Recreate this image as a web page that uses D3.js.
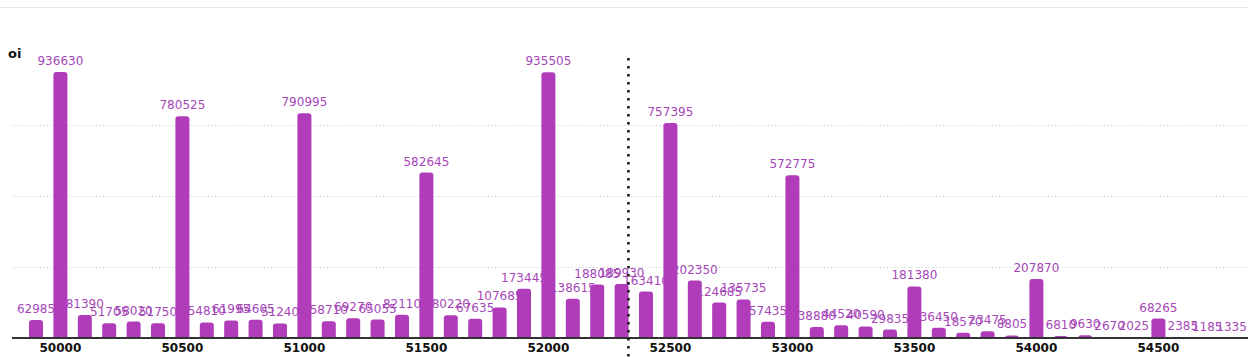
<!DOCTYPE html>
<html>
<head>
<meta charset="utf-8">
<script src="https://cdn.jsdelivr.net/npm/d3@7"></script>
<style>
  html, body { margin: 0; padding: 0; background: #ffffff; }
  svg { display: block; }
</style>
</head>
<body>
<div id="chart"></div>
<script>
// ---- data ----
const strikes = [49900, 50000, 50100, 50200, 50300, 50400, 50500, 50600, 50700, 50800, 50900,
  51000, 51100, 51200, 51300, 51400, 51500, 51600, 51700, 51800, 51900,
  52000, 52100, 52200, 52300, 52400, 52500, 52600, 52700, 52800, 52900,
  53000, 53100, 53200, 53300, 53400, 53500, 53600, 53700, 53800, 53900,
  54000, 54100, 54200, 54300, 54400, 54500, 54600, 54700, 54800];
const oiValues = [62985, 936630, 81390, 51705, 58020, 51750, 780525, 54810, 61995, 64605, 51240,
  790995, 58710, 69270, 65055, 82110, 582645, 80220, 67635, 107685, 173445,
  935505, 138615, 188085, 189930, 163410, 757395, 202350, 124685, 135735, 57435,
  572775, 38880, 44520, 40590, 29835, 181380, 36450, 18570, 23475, 8805,
  207870, 6810, 9630, 2670, 2025, 68265, 2385, 1185, 1335];
const xTickLabels = [50000, 50500, 51000, 51500, 52000, 52500, 53000, 53500, 54000, 54500];
const gridValues = [250000, 500000, 750000];
const spotPrice = 52328;
const yLabel = "oi";

// ---- layout ----
const W = 1248, H = 357;
const baseY = 338;
const svg = d3.select("#chart").append("svg").attr("width", W).attr("height", H);

svg.append("defs").append("clipPath").attr("id", "plotclip")
  .append("rect").attr("x", 0).attr("y", 0).attr("width", W).attr("height", baseY - 1);

const x = d3.scaleBand().domain(strikes).range([23.8, 23.8 + strikes.length * 24.4]).paddingInner(0.426).paddingOuter(0.213);
const y = d3.scaleLinear().domain([0, 1000000]).range([baseY, 54]);
const xLin = d3.scaleLinear()
  .domain([strikes[0], strikes[strikes.length - 1]])
  .range([x(strikes[0]) + x.bandwidth() / 2, x(strikes[strikes.length - 1]) + x.bandwidth() / 2]);

// top border line
svg.append("line").attr("x1", 0).attr("x2", W).attr("y1", 7.5).attr("y2", 7.5)
  .attr("stroke", "#e6e6e6").attr("stroke-width", 1.2);

// grid
svg.append("g").selectAll("line").data(gridValues).join("line")
  .attr("x1", 12).attr("x2", W)
  .attr("y1", d => Math.round(y(d)) + 0.5).attr("y2", d => Math.round(y(d)) + 0.5)
  .attr("stroke", "#c8c8c8").attr("stroke-width", 1).attr("stroke-dasharray", "1,2.5");

// y label
svg.append("text").attr("x", 8).attr("y", 58).text(yLabel)
  .attr("font-family", "DejaVu Sans, sans-serif").attr("font-weight", "bold")
  .attr("font-size", 13).attr("fill", "#111");

// bars
const r = 3;
svg.append("g").attr("clip-path", "url(#plotclip)").selectAll("rect").data(strikes).join("rect")
  .attr("x", d => x(d))
  .attr("width", x.bandwidth())
  .attr("y", (d, i) => y(oiValues[i]))
  .attr("height", (d, i) => baseY - y(oiValues[i]) + r)
  .attr("rx", r).attr("ry", r)
  .attr("fill", "#b03cba");

// value labels
svg.append("g").selectAll("text").data(strikes).join("text")
  .attr("x", d => x(d) + x.bandwidth() / 2)
  .attr("y", (d, i) => y(oiValues[i]) - 7)
  .attr("text-anchor", "middle")
  .attr("font-family", "DejaVu Sans, sans-serif")
  .attr("font-size", 12)
  .attr("fill", "#a547b8")
  .text((d, i) => oiValues[i]);

// axis line
svg.append("line").attr("x1", 12).attr("x2", W).attr("y1", baseY).attr("y2", baseY)
  .attr("stroke", "#333").attr("stroke-width", 2);

// x axis labels
const xAxis = d3.axisBottom(x).tickValues(xTickLabels).tickSize(0).tickPadding(0).tickFormat(d => d);
const gx = svg.append("g").attr("transform", `translate(0,${baseY})`).call(xAxis);
gx.select(".domain").remove();
gx.selectAll("text")
  .attr("y", 14).attr("dy", 0)
  .attr("font-family", "DejaVu Sans, sans-serif")
  .attr("font-weight", "bold").attr("font-size", 12).attr("fill", "#111");

// spot line
svg.append("line")
  .attr("x1", xLin(spotPrice)).attr("x2", xLin(spotPrice))
  .attr("y1", 58).attr("y2", H)
  .attr("stroke", "#111").attr("stroke-width", 2.5).attr("stroke-dasharray", "2.5,5.5");
</script>
</body>
</html>
